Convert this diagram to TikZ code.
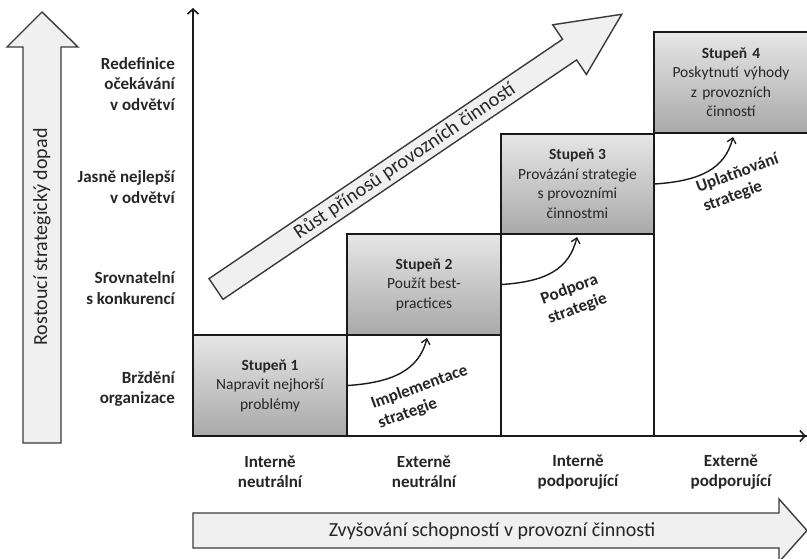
\documentclass[tikz,border=0pt]{standalone}
\usepackage{fontspec}
\setmainfont{Carlito}
\usetikzlibrary{arrows.meta}
\definecolor{lineC}{HTML}{1A1A1A}
\definecolor{txtC}{HTML}{262626}
\definecolor{arrFill}{HTML}{F0F0F0}
\definecolor{arrLine}{HTML}{3A3A3A}
\definecolor{boxTop}{HTML}{E6E6E6}
\definecolor{boxBot}{HTML}{A9A9A9}
\newcommand\boxfont{\fontsize{15.5}{19.5}\selectfont}
\newcommand\labfont{\fontsize{17}{20.5}\selectfont\bfseries}
\newcommand\arrfont{\fontsize{20}{24}\selectfont}
\tikzset{
  stagebox/.style={draw=lineC, line width=1.6pt, top color=boxTop, bottom color=boxBot,
    align=center, font=\boxfont, text=txtC, inner sep=2pt},
  colframe/.style={draw=lineC, line width=1.6pt},
  sidelab/.style={font=\labfont, text=txtC, align=right, anchor=east, inner sep=0pt},
  collab/.style={font=\labfont, text=txtC, align=center, inner sep=0pt},
  curvelab/.style={font=\labfont, text=txtC, align=left, rotate=20, inner sep=0pt},
  blockarrow/.style={draw=arrLine, line width=1.4pt, fill=arrFill, line join=miter},
  axisline/.style={draw=lineC, line width=1.8pt, -{Straight Barb[length=5pt,width=11pt,line width=1.6pt]}},
  curvearr/.style={draw=lineC, line width=1.4pt, -{Straight Barb[length=5pt,width=9pt,line width=1.3pt]}}
}
\begin{document}
\begin{tikzpicture}[x=1pt,y=-1pt]
\useasboundingbox (0,0) rectangle (807,559);

% left block arrow
\draw[blockarrow] (23,443) -- (23,47) -- (7,47) -- (42,12) -- (78,47) -- (61,47) -- (61,443) -- cycle;
\node[font=\arrfont, text=txtC, rotate=90] (leftlab) at (42,237) {Rostoucí strategický dopad};

% bottom block arrow
\draw[blockarrow] (193,513) -- (779,513) -- (779,499) -- (807,530.5) -- (779,562) -- (779,548) -- (193,548) -- cycle;
\node[font=\arrfont, text=txtC] (botlab) at (492,531) {Zvyšování schopností v provozní činnosti};

% column frames
\draw[colframe] (347,234) rectangle (501,436);
\draw[colframe] (501,134) rectangle (654,436);
\draw[colframe] (654,32) rectangle (812,436);

% stage boxes
\node[stagebox, minimum width=154pt, minimum height=101pt] (s1) at (270,385.5)
  {\textbf{Stupeň 1}\\Napravit nejhorší\\problémy};
\node[stagebox, minimum width=154pt, minimum height=101pt] (s2) at (424,284.5)
  {\textbf{Stupeň 2}\\Použít best-\\practices};
\node[stagebox, minimum width=153pt, minimum height=100pt] (s3) at (577.5,184)
  {\textbf{Stupeň 3}\\Provázání strategie\\s provozními\\činnostmi};
\node[stagebox, minimum width=158pt, minimum height=101pt, text width=150pt] (s4) at (733,82.5)
  {\hspace*{-4pt}\textbf{Stupeň 4}\\\hspace*{-4pt}Poskytnutí výhody\\\hspace*{-4pt}z provozních\\\hspace*{-4pt}činností};

% axes
\coordinate (O) at (193,436);
\coordinate (Ytop) at (193,8);
\coordinate (Xend) at (806,436);
\draw[axisline] (O) -- (Ytop);
\draw[axisline] (O) -- (Xend);

% diagonal block arrow
\begin{scope}[shift={(216,289)}, rotate=34.1]
\draw[blockarrow] (0,-12.5) -- (427,-12.5) -- (427,-30) -- (490,0) -- (427,30) -- (427,12.5) -- (0,12.5) -- cycle;
\node[font=\arrfont, text=txtC, rotate=34.1] (diaglab) at (228,0) {Růst přínosů provozních činností};
\end{scope}

% side labels
\node[sidelab] (l4) at (175,84) {Redefinice\\očekávání\\v odvětví};
\node[sidelab] (l3) at (175,187) {Jasně nejlepší\\v odvětví};
\node[sidelab] (l2) at (175,288) {Srovnatelní\\s konkurencí};
\node[sidelab] (l1) at (175,389) {Brždění\\organizace};

% column labels
\node[collab] (c1) at (270,472) {Interně\\neutrální};
\node[collab] (c2) at (424,472) {Externě\\neutrální};
\node[collab] (c3) at (578,472) {Interně\\podporující};
\node[collab] (c4) at (731,472) {Externě\\podporující};

% curved arrows
\coordinate (e1) at (427,338);
\coordinate (e2) at (577,237);
\coordinate (e3) at (733,137);
\draw[curvearr] (s1.east) .. controls +(45,-3) and +(-8,32) .. (e1);
\draw[curvearr] (s2.east) .. controls +(45,-3) and +(-8,32) .. (e2);
\draw[curvearr] (s3.east) .. controls +(45,-3) and +(-8,32) .. (e3);

% curve labels
\node[curvelab] (t1) at (423,397) {Implementace\\strategie};
\node[curvelab] (t2) at (574,299) {Podpora\\strategie};
\node[curvelab] (t3) at (741,183) {Uplatňování\\strategie};
\end{tikzpicture}
\end{document}
